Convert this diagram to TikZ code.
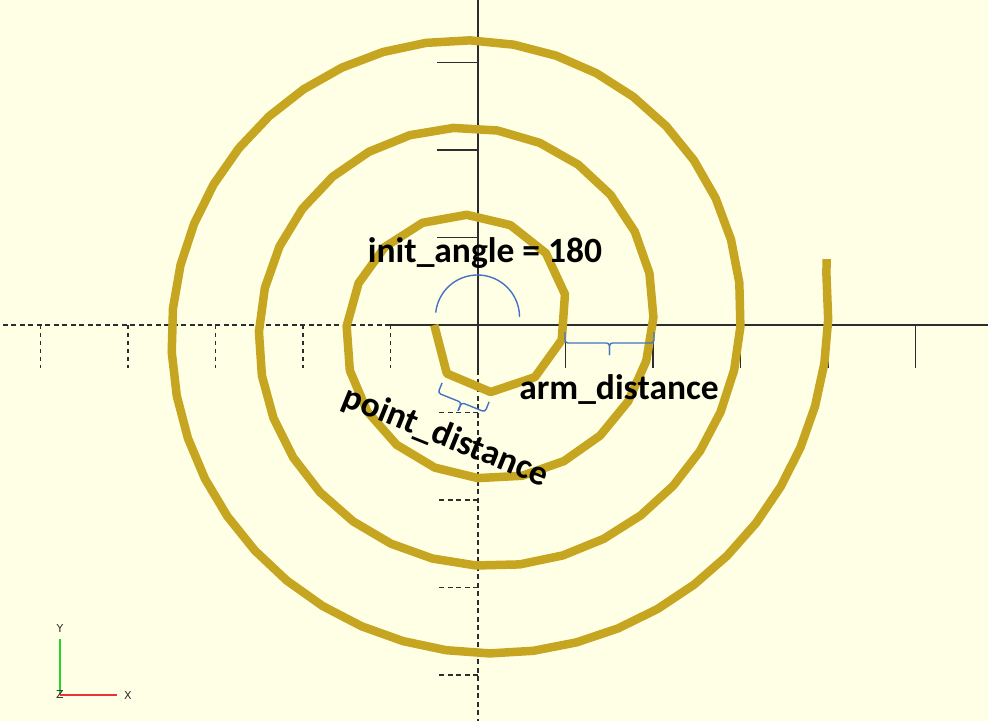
\documentclass[tikz,border=0pt]{standalone}
\usepackage{fontspec}
\setmainfont{Carlito}
\setsansfont{DejaVu Sans}
\definecolor{bg}{RGB}{255,255,229}
\definecolor{gold}{RGB}{198,166,33}
\definecolor{annblue}{RGB}{68,114,196}
\definecolor{axisgray}{RGB}{45,45,45}
\definecolor{axgreen}{RGB}{40,210,40}
\definecolor{axred}{RGB}{235,50,50}
\begin{document}
\begin{tikzpicture}[x=1pt,y=-1pt,
  spiral/.style={draw=gold, line width=8.5pt, line join=round, line cap=butt},
  axisline/.style={draw=axisgray, line width=1.6pt},
  negaxis/.style={axisline, dash pattern=on 5pt off 3.5pt},
  negtick/.style={axisline, dash pattern=on 4pt off 4pt},
  ann/.style={draw=annblue, line width=1.4pt, rounded corners=3pt},
  lbl/.style={font=\fontsize{35.5}{40}\selectfont\bfseries, text=black, inner sep=0pt},
  axlbl/.style={font=\sffamily\fontsize{11}{12}\selectfont, text=axisgray, inner sep=0pt}]
\fill[bg] (0,0) rectangle (988,721);
\useasboundingbox (0,0) rectangle (988,721);
% origin and axis ends
\coordinate (O) at (478,325);
\coordinate (xr) at (988,325);
\coordinate (xl) at (0,325);
\coordinate (xs) at (390,325);
\coordinate (yt) at (478,0);
\coordinate (yb) at (478,721);
\coordinate (ys) at (478,370);
\draw[axisline] (xs) -- (xr);
\draw[negaxis] (xs) -- (xl);
\draw[axisline] (yt) -- (ys);
\draw[negaxis] (ys) -- (yb);
% ticks
\foreach \tx in {565.5,653,740.5,828,915.5}{\draw[axisline] (\tx,325) -- (\tx,368);}
\foreach \tx in {390.5,303,215.5,128,40.5}{\draw[negtick] (\tx,325) -- (\tx,368);}
\foreach \ty in {237.5,150,62.5}{\draw[axisline] (437,\ty) -- (478,\ty);}
\foreach \ty in {412.5,500,587.5,675}{\draw[negaxis] (478,\ty) -- (437,\ty);}
% spiral
\pgfmathsetmacro\sth{pi}
\xdef\sth{\sth}
\gdef\spath{}
\foreach \n in {0,...,99}{%
  \pgfmathsetmacro\srr{1.5915494*\sth}%
  \pgfmathsetmacro\sX{478+8.75*\srr*cos(deg(\sth))}%
  \pgfmathsetmacro\sY{325-8.75*\srr*sin(deg(\sth))}%
  \ifnum\n=0 \xdef\spath{(\sX,\sY)}\else\xdef\spath{\spath -- (\sX,\sY)}\fi
  \pgfmathsetmacro\snew{\sth+5/\srr}%
  \xdef\sth{\snew}%
}
\coordinate (spend) at (826.5,259);
\edef\spiralcmd{\noexpand\draw[spiral] \spath -- (spend);}
\spiralcmd
% init angle arc
\draw[draw=annblue, line width=1.4pt] plot[domain=0:174, samples=50] ({477.5+42*cos(\x)}, {317-42*sin(\x)});
% arm distance brace
\coordinate (a1) at (565,332);
\coordinate (a2) at (565,343);
\coordinate (am) at (609.5,343);
\coordinate (at) at (609.5,355);
\coordinate (a3) at (654,343);
\coordinate (a4) at (654,332);
\draw[ann] (a1) -- (a2) -- (am) -- (at);
\draw[ann] (a4) -- (a3) -- (am) -- (at);
% point distance brace
\coordinate (p1) at (442.1,382.8);
\coordinate (p2) at (438,393);
\coordinate (pm) at (461.5,402.5);
\coordinate (pt) at (458.1,410.8);
\coordinate (p3) at (485,412);
\coordinate (p4) at (489.1,401.8);
\draw[ann] (p1) -- (p2) -- (pm) -- (pt);
\draw[ann] (p4) -- (p3) -- (pm) -- (pt);
% labels
\node[lbl, anchor=base] (initlabel) at (485,262) {init\_angle = 180};
\node[lbl, anchor=base] (armlabel) at (619,399) {arm\_distance};
\node[lbl, anchor=base, rotate=-22] (pointlabel) at (442,446) {point\_distance};
% axes indicator
\coordinate (ic) at (59.5,694.5);
\coordinate (iy) at (59.5,639);
\coordinate (ix) at (117,694.5);
\draw[draw=axgreen, line width=2pt] (ic) -- (iy);
\draw[draw=axred, line width=2pt] (ic) -- (ix);
\node[axlbl] (ylbl) at (60,628) {Y};
\node[axlbl] (zlbl) at (60,694) {Z};
\node[axlbl] (xlbl) at (128,695.5) {X};
\end{tikzpicture}
\end{document}
